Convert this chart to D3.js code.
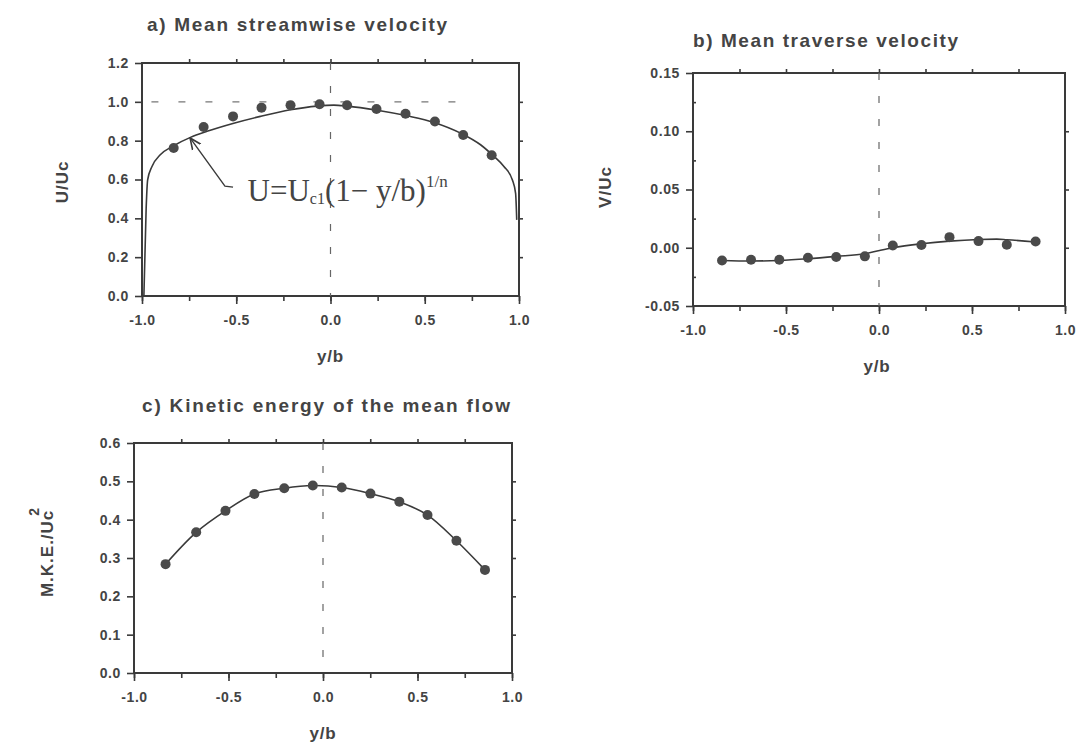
<!DOCTYPE html>
<html>
<head>
<meta charset="utf-8">
<script src="https://cdn.jsdelivr.net/npm/d3@7"></script>
<style>
  body { margin: 0; background: #fff; }
  svg { display: block; }
  text { font-family: "Liberation Sans", Arial, sans-serif; font-weight: bold; fill: #444; }
</style>
</head>
<body>
<div id="chart"></div>
<script>
// ---- data ----
// a) mean streamwise velocity
const aX = [-0.832, -0.673, -0.517, -0.366, -0.212, -0.058, 0.088, 0.244, 0.398, 0.554, 0.704, 0.855];
const aU = [0.762, 0.870, 0.925, 0.970, 0.982, 0.988, 0.982, 0.963, 0.939, 0.899, 0.829, 0.725];
// power-law fit curve
const fitX = [-0.99, -0.978, -0.97, -0.947, -0.903, -0.832, -0.743, -0.655, -0.513, -0.372, -0.212, -0.071, 0.018, 0.088, 0.248, 0.407, 0.549, 0.69, 0.796, 0.867, 0.92, 0.965, 0.982, 0.988];
const fitU = [0.0, 0.45, 0.598, 0.667, 0.727, 0.774, 0.817, 0.848, 0.89, 0.925, 0.959, 0.978, 0.983, 0.978, 0.957, 0.928, 0.894, 0.839, 0.779, 0.719, 0.667, 0.598, 0.529, 0.392];

// b) mean traverse velocity
const bX = [-0.844, -0.688, -0.536, -0.382, -0.230, -0.076, 0.074, 0.228, 0.379, 0.535, 0.687, 0.842];
const bV = [-0.0109, -0.0103, -0.0103, -0.0086, -0.0080, -0.0074, 0.0020, 0.0023, 0.0091, 0.0057, 0.0026, 0.0054];
const bLineX = [-0.844, -0.688, -0.536, -0.382, -0.230, -0.076, 0.003, 0.074, 0.228, 0.379, 0.535, 0.633, 0.687, 0.842];
const bLineV = [-0.0109, -0.0114, -0.0109, -0.0094, -0.0074, -0.0051, -0.0023, 0.0, 0.0034, 0.0057, 0.0071, 0.0074, 0.0069, 0.0049];

// c) kinetic energy of the mean flow
const cX = [-0.833, -0.671, -0.516, -0.363, -0.205, -0.054, 0.099, 0.251, 0.404, 0.553, 0.706, 0.857];
const cK = [0.284, 0.367, 0.423, 0.467, 0.482, 0.489, 0.484, 0.468, 0.447, 0.412, 0.345, 0.269];

// tick values
const xMajor = [-1, -0.5, 0, 0.5, 1];
const xMinor = [-1, -0.75, -0.5, -0.25, 0, 0.25, 0.5, 0.75, 1];
const aTicks = [0, 0.2, 0.4, 0.6, 0.8, 1.0, 1.2];
const bTicks = [-0.05, 0, 0.05, 0.10, 0.15];
const bMinor = [-0.025, 0.025, 0.075, 0.125];
const cTicks = [0, 0.1, 0.2, 0.3, 0.4, 0.5, 0.6];

// annotation in panel a (data coords)
const arrowPts = [[-0.517, 0.561], [-0.56, 0.566], [-0.745, 0.814]];
const formulaAt = [-0.44, 0.49];

const ink = '#3a3a3a';
const svg = d3.select('#chart').append('svg')
    .attr('width', 1077).attr('height', 749);
svg.append('rect').attr('width', 1077).attr('height', 749).attr('fill', '#fff');

const defs = svg.append('defs');
defs.append('marker').attr('id', 'arr')
    .attr('viewBox', '0 0 10 10').attr('refX', 9).attr('refY', 5)
    .attr('markerWidth', 9).attr('markerHeight', 9).attr('orient', 'auto')
  .append('path').attr('d', 'M0,1 L9,5 L0,9').attr('fill', 'none')
    .attr('stroke', ink).attr('stroke-width', 1.3);

// hyphen instead of unicode minus, like the original
const fmt = f => d => d3.format(f)(d).replace('\u2212', '-');

function panel(o) {
  const x = d3.scaleLinear().domain([-1, 1]).range([o.l, o.r]);
  const y = d3.scaleLinear().domain(o.yDom).range([o.b, o.t]);
  const g = svg.append('g');

  // left axis with labels
  g.append('g').attr('transform', `translate(${o.l},0)`)
    .call(d3.axisLeft(y).tickValues(o.yTicks).tickFormat(fmt(o.yFmt)).tickSize(7).tickSizeOuter(0).tickPadding(6))
    .call(a => a.select('.domain').remove());
  // right axis ticks
  g.append('g').attr('transform', `translate(${o.r},0)`)
    .call(d3.axisRight(y).tickValues(o.yTicks.slice(1, -1)).tickFormat('').tickSize(4).tickSizeOuter(0))
    .call(a => a.select('.domain').remove());
  if (o.yMinor) {
    g.append('g').attr('transform', `translate(${o.l},0)`)
      .call(d3.axisRight(y).tickValues(o.yMinor).tickFormat('').tickSize(3).tickSizeOuter(0))
      .call(a => a.select('.domain').remove());
  }
  // bottom axis: minor ticks, then labelled majors
  g.append('g').attr('transform', `translate(0,${o.b})`)
    .call(d3.axisBottom(x).tickValues(xMinor).tickFormat('').tickSize(5).tickSizeOuter(0))
    .call(a => a.select('.domain').remove());
  g.append('g').attr('transform', `translate(0,${o.b})`)
    .call(d3.axisBottom(x).tickValues(xMajor).tickFormat(fmt('.1f')).tickSize(8).tickSizeOuter(0).tickPadding(11))
    .call(a => a.select('.domain').remove());
  // top axis ticks
  g.append('g').attr('transform', `translate(0,${o.t})`)
    .call(d3.axisTop(x).tickValues(xMinor.slice(1, -1)).tickFormat('').tickSize(4).tickSizeOuter(0))
    .call(a => a.select('.domain').remove());

  g.selectAll('.tick line').attr('stroke', ink).attr('stroke-width', 1.6);
  g.selectAll('.tick text').attr('fill', '#444').style('font-size', '14px')
    .style('font-weight', 'bold').style('letter-spacing', '0.6px')
    .style('font-family', '"Liberation Sans", Arial, sans-serif');

  // frame
  g.append('rect').attr('x', o.l).attr('y', o.t)
    .attr('width', o.r - o.l).attr('height', o.b - o.t)
    .attr('fill', 'none').attr('stroke', ink).attr('stroke-width', 2);

  // dashed centre line
  g.append('line').attr('x1', x(0)).attr('x2', x(0)).attr('y1', o.t).attr('y2', o.b)
    .attr('stroke', '#666').attr('stroke-width', 1.2).attr('stroke-dasharray', '7,16');

  // titles
  g.append('text').attr('x', o.titleX).attr('y', o.titleY)
    .attr('textLength', o.titleW).attr('lengthAdjust', 'spacing')
    .style('font-size', '19px').text(o.title);
  g.append('text').attr('x', (o.l + o.r) / 2 + o.xlabDx).attr('y', o.b + 66)
    .attr('text-anchor', 'middle').style('font-size', '17px').style('letter-spacing', '0.8px').text('y/b');
  const yl = g.append('text')
    .attr('transform', `translate(${o.ylabX},${o.ylabY}) rotate(-90)`)
    .attr('text-anchor', 'middle').style('font-size', '17px').style('letter-spacing', '1px');
  yl.append('tspan').text(o.ylab);
  if (o.ylabSup) yl.append('tspan').attr('dy', -14).attr('dx', -6).style('font-size', '14px').text(o.ylabSup);

  return { g, x, y };
}

const line = (x, y) => d3.line().x(d => x(d[0])).y(d => y(d[1]));

// ---- panel a ----
const pa = panel({ l: 142, r: 519, t: 63, b: 296, yDom: [0, 1.2], yTicks: aTicks, yFmt: '.1f',
  title: 'a) Mean streamwise velocity', titleX: 147, titleY: 31, titleW: 300,
  ylab: 'U/Uc', ylabX: 68, ylabY: 182, xlabDx: 0 });
pa.g.append('line').attr('x1', pa.x(-0.95)).attr('x2', pa.x(0.71))
  .attr('y1', pa.y(1)).attr('y2', pa.y(1))
  .attr('stroke', '#777').attr('stroke-width', 1.2).attr('stroke-dasharray', '7,20');
pa.g.append('path').datum(d3.zip(fitX, fitU))
  .attr('d', line(pa.x, pa.y).curve(d3.curveMonotoneX))
  .attr('fill', 'none').attr('stroke', ink).attr('stroke-width', 1.6);
pa.g.selectAll('circle').data(d3.zip(aX, aU)).join('circle')
  .attr('cx', d => pa.x(d[0])).attr('cy', d => pa.y(d[1])).attr('r', 5).attr('fill', '#4a4a4a');
pa.g.append('path').datum(arrowPts)
  .attr('d', line(pa.x, pa.y))
  .attr('fill', 'none').attr('stroke', ink).attr('stroke-width', 1.4).attr('marker-end', 'url(#arr)');
const fm = pa.g.append('text').attr('x', pa.x(formulaAt[0])).attr('y', pa.y(formulaAt[1]))
  .style('font-family', '"Liberation Serif", "Times New Roman", serif').style('font-weight', 'normal')
  .style('font-size', '31px').attr('fill', '#333');
fm.append('tspan').text('U=U');
fm.append('tspan').attr('dy', 3).style('font-size', '16px').text('c1');
fm.append('tspan').attr('dy', -3).text('(1\u2212 y/b)');
fm.append('tspan').attr('dy', -14).style('font-size', '17px').text('1/n');

// ---- panel b ----
const pb = panel({ l: 693, r: 1065, t: 73, b: 306, yDom: [-0.05, 0.15], yTicks: bTicks, yFmt: '.2f', yMinor: bMinor,
  title: 'b) Mean traverse velocity', titleX: 693, titleY: 47, titleW: 265,
  ylab: 'V/Uc', ylabX: 611, ylabY: 187, xlabDx: -2 });
pb.g.append('path').datum(d3.zip(bLineX, bLineV))
  .attr('d', line(pb.x, pb.y).curve(d3.curveMonotoneX))
  .attr('fill', 'none').attr('stroke', ink).attr('stroke-width', 1.6);
pb.g.selectAll('circle').data(d3.zip(bX, bV)).join('circle')
  .attr('cx', d => pb.x(d[0])).attr('cy', d => pb.y(d[1])).attr('r', 5).attr('fill', '#4a4a4a');

// ---- panel c ----
const pc = panel({ l: 134, r: 512, t: 443, b: 673, yDom: [0, 0.6], yTicks: cTicks, yFmt: '.1f',
  title: 'c) Kinetic energy of the mean flow', titleX: 142, titleY: 412, titleW: 368,
  ylab: 'M.K.E./Uc', ylabSup: '2', ylabX: 53, ylabY: 552, xlabDx: 0 });
pc.g.append('path').datum(d3.zip(cX, cK))
  .attr('d', line(pc.x, pc.y).curve(d3.curveCatmullRom))
  .attr('fill', 'none').attr('stroke', ink).attr('stroke-width', 1.6);
pc.g.selectAll('circle').data(d3.zip(cX, cK)).join('circle')
  .attr('cx', d => pc.x(d[0])).attr('cy', d => pc.y(d[1])).attr('r', 5).attr('fill', '#4a4a4a');
</script>
</body>
</html>
